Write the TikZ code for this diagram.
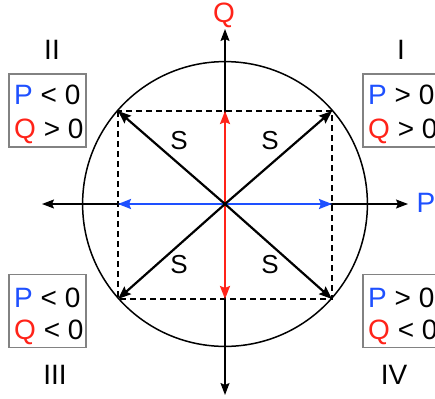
\documentclass[tikz,border=0pt]{standalone}
\usepackage{fontspec}
\setmainfont{Liberation Sans}
\usetikzlibrary{arrows.meta}
\definecolor{pblue}{RGB}{30,80,255}
\definecolor{qred}{RGB}{255,35,25}
\definecolor{boxgray}{RGB}{130,130,130}
\tikzset{
  axisline/.style={line width=1.4pt, -{Stealth[length=12pt,width=9pt,inset=2pt]}},
  vecline/.style={line width=2.2pt, -{Stealth[length=13pt,width=10pt,inset=2pt]}},
  dashbox/.style={line width=1.3pt, dash pattern=on 6pt off 4pt},
  signbox/.style={draw=boxgray, line width=1.5pt, minimum width=77pt, minimum height=73pt, inner sep=0pt},
  bigtxt/.style={font=\fontsize{28}{32}\selectfont, inner sep=0pt},
  stxt/.style={font=\fontsize{26}{30}\selectfont, inner sep=0pt},
}
\begin{document}
\begin{tikzpicture}[x=1pt,y=-1pt]
\useasboundingbox (0,0) rectangle (435,398);
\coordinate (O) at (225,204);
\coordinate (L) at (42,204);
\coordinate (R) at (408,204);
\coordinate (T) at (225,29);
\coordinate (B) at (225,395);
\coordinate (TL) at (118,111);
\coordinate (TR) at (332,111);
\coordinate (BL) at (118,299);
\coordinate (BR) at (332,299);
\coordinate (ML) at (118,204);
\coordinate (MR) at (332,204);
\coordinate (MT) at (225,111);
\coordinate (MB) at (225,299);
% circle
\draw[line width=1.5pt] (O) circle (142.4pt);
% dashed rectangle
\draw[dashbox] (TL) rectangle (BR);
% axes
\draw[axisline] (O) -- (R);
\draw[axisline] (O) -- (L);
\draw[axisline] (O) -- (T);
\draw[axisline] (O) -- (B);
% P and Q vectors
\draw[vecline, pblue] (O) -- (ML);
\draw[vecline, pblue] (O) -- (MR);
\draw[vecline, qred] (O) -- (MT);
\draw[vecline, qred] (O) -- (MB);
% S vectors
\draw[vecline] (O) -- (TL);
\draw[vecline] (O) -- (TR);
\draw[vecline] (O) -- (BL);
\draw[vecline] (O) -- (BR);
% axis labels
\node[bigtxt, text=qred] (qlab) at (224,15) {Q};
\node[bigtxt, text=pblue] (plab) at (426,203) {P};
% S labels
\node[stxt] (s1) at (179,141) {S};
\node[stxt] (s2) at (270,141) {S};
\node[stxt] (s3) at (179,265) {S};
\node[stxt] (s4) at (270,265) {S};
% quadrant numerals
\node[bigtxt] (q1) at (401,50) {I};
\node[bigtxt] (q2) at (52,50) {II};
\node[bigtxt] (q3) at (55,375) {III};
\node[bigtxt] (q4) at (394,375) {IV};
% sign boxes
\node[signbox] (b2) at (47.5,110.5) {};
\node[signbox] (b1) at (401.5,110.5) {};
\node[signbox] (b3) at (47.5,311) {};
\node[signbox] (b4) at (401.5,311) {};
\node[bigtxt, anchor=base west] (b2p) at (14,105) {\textcolor{pblue}{P} < 0};
\node[bigtxt, anchor=base west] (b2q) at (14,138) {\textcolor{qred}{Q} > 0};
\node[bigtxt, anchor=base west] (b1p) at (368,105) {\textcolor{pblue}{P} > 0};
\node[bigtxt, anchor=base west] (b1q) at (368,138) {\textcolor{qred}{Q} > 0};
\node[bigtxt, anchor=base west] (b3p) at (14,307) {\textcolor{pblue}{P} < 0};
\node[bigtxt, anchor=base west] (b3q) at (14,339) {\textcolor{qred}{Q} < 0};
\node[bigtxt, anchor=base west] (b4p) at (368,307) {\textcolor{pblue}{P} > 0};
\node[bigtxt, anchor=base west] (b4q) at (368,339) {\textcolor{qred}{Q} < 0};
\end{tikzpicture}
\end{document}
